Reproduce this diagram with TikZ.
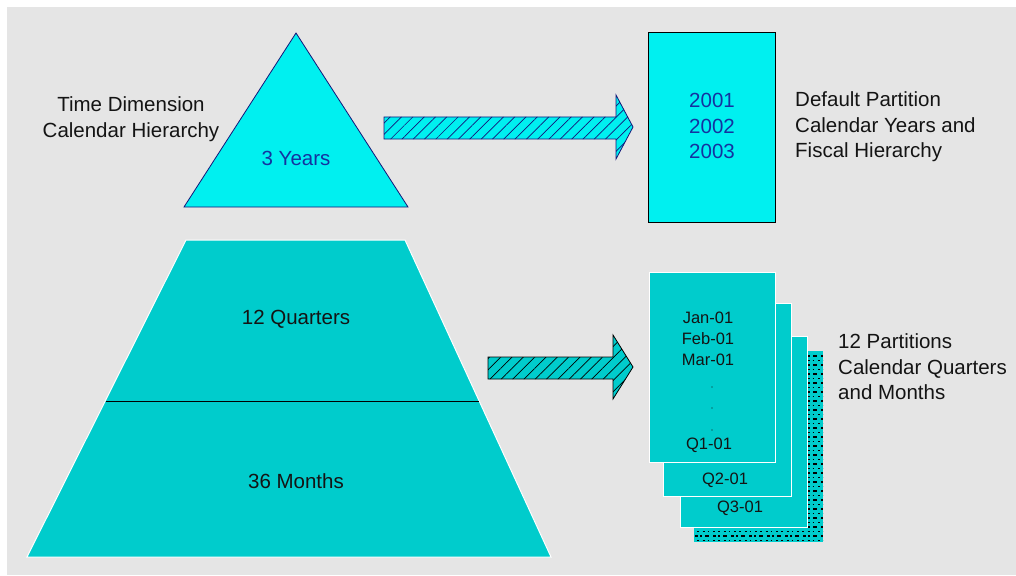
\documentclass[tikz,border=0pt]{standalone}
\usepackage{fontspec}
\setmainfont{Liberation Sans}
\usetikzlibrary{patterns.meta}
\definecolor{bg}{RGB}{229,229,229}
\definecolor{cyanA}{RGB}{0,240,240}
\definecolor{tealA}{RGB}{0,204,204}
\definecolor{navy}{RGB}{20,20,120}
\definecolor{txtblue}{RGB}{20,50,160}
\definecolor{txt}{RGB}{20,20,20}
\tikzset{
  lbl/.style={font=\fontsize{20.5}{25.5}\selectfont, text=txt, inner sep=0pt},
  cardtxt/.style={font=\fontsize{16.5}{21}\selectfont, text=txt, inner sep=0pt},
  card/.style={fill=tealA, draw=white, line width=1pt},
  hatch/.style={pattern={Lines[angle=45,distance=8pt,line width=0.7pt]}},
}
\begin{document}
\begin{tikzpicture}[x=1pt,y=-1pt]
\useasboundingbox (0,0) rectangle (1016,575);
\fill[white] (0,0) rectangle (1016,575);
\fill[bg] (7,7) rectangle (1016,575);

% top triangle
\draw[fill=cyanA, draw=navy, line width=0.8pt] (296,33) -- (408,207) -- (184,207) -- cycle;
\node[lbl, text=txtblue] (years) at (296,158) {3 Years};
\node[lbl, align=center] (timedim) at (131,119) {Time Dimension\\Calendar Hierarchy};

% top arrow
\path[fill=cyanA] (384,117) -- (616,117) -- (616,95) -- (633,127) -- (616,159) -- (616,139) -- (384,139) -- cycle;
\path[hatch, pattern color=navy] (384,117) -- (616,117) -- (616,95) -- (633,127) -- (616,159) -- (616,139) -- (384,139) -- cycle;
\draw[navy, line width=0.8pt] (384,117) -- (616,117) -- (616,95) -- (633,127) -- (616,159) -- (616,139) -- (384,139) -- cycle;

% top rectangle
\node[draw=black, fill=cyanA, line width=0.8pt, minimum width=127pt, minimum height=190pt, inner sep=0pt] (defpart) at (711.5,127) {};
\node[lbl, text=txtblue, align=center] (yrs) at (712,126) {2001\\2002\\2003};
\node[lbl, align=left, anchor=west] (deflbl) at (795,127) {Default Partition\\Calendar Years and\\Fiscal Hierarchy};

% trapezoid
\draw[fill=tealA, draw=white, line width=1pt] (186,240) -- (405,240) -- (551,557) -- (27,557) -- cycle;
\draw[black, line width=0.8pt] (105.5,401) -- (479,401);
\node[lbl] (quarters) at (296,319) {12 Quarters};
\node[lbl] (months) at (296,481) {36 Months};

% lower arrow
\path[fill=tealA] (488,357) -- (613,357) -- (613,335) -- (633,367) -- (613,399) -- (613,379) -- (488,379) -- cycle;
\path[hatch, pattern color=black] (488,357) -- (613,357) -- (613,335) -- (633,367) -- (613,399) -- (613,379) -- (488,379) -- cycle;
\draw[black, line width=0.8pt] (488,357) -- (613,357) -- (613,335) -- (633,367) -- (613,399) -- (613,379) -- (488,379) -- cycle;

% cards
\fill[tealA] (694,351) rectangle (823,542);
\begin{scope}
\clip (694,351) rectangle (823,542);
\foreach \yy in {356,365,...,542} {
  \draw[black, line width=1.6pt, dash pattern=on 3pt off 2pt on 2pt off 3pt on 4pt off 4pt] (695,\yy) -- (823,\yy);
}
\foreach \yy in {360.5,369.5,...,542} {
  \draw[black, line width=1pt, dash pattern=on 1.5pt off 4pt on 2pt off 3pt] (697,\yy) -- (823,\yy);
}
\end{scope}
\draw[card] (680,336) rectangle (807,527);
\draw[card] (663,303) rectangle (791,496);
\draw[card] (649,272) rectangle (775,462);
\node[cardtxt] (jan) at (708,318) {Jan-01};
\node[cardtxt] (feb) at (708,339) {Feb-01};
\node[cardtxt] (mar) at (708,360) {Mar-01};
\fill[txt] (712,387) circle (0.7pt);
\fill[txt] (712,408) circle (0.7pt);
\fill[txt] (712,430) circle (0.7pt);
\node[cardtxt] (q1) at (709,445) {Q1-01};
\node[cardtxt] (q2) at (725,480) {Q2-01};
\node[cardtxt] (q3) at (740,508) {Q3-01};
\node[lbl, align=left, anchor=west] (partlbl) at (838,367) {12 Partitions\\Calendar Quarters\\and Months};
\end{tikzpicture}
\end{document}
